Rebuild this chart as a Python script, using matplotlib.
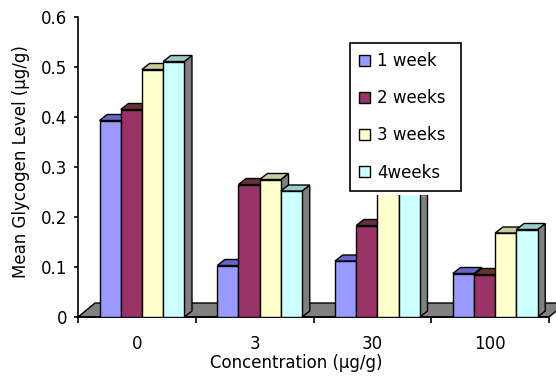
"""Glycogen level by concentration, drawn as pseudo-3D clustered columns."""

import matplotlib

matplotlib.use("Agg")
from matplotlib import patches, pyplot as plt

CONCENTRATIONS = ["0", "3", "30", "100"]
SERIES = ["1 week", "2 weeks", "3 weeks", "4weeks"]
WEEK1 = [0.393, 0.103, 0.112, 0.087]
WEEK2 = [0.415, 0.265, 0.183, 0.085]
WEEK3 = [0.495, 0.275, 0.31, 0.168]
WEEK4 = [0.511, 0.252, 0.32, 0.175]
VALUES = [WEEK1, WEEK2, WEEK3, WEEK4]
Y_TICKS = [0, 0.1, 0.2, 0.3, 0.4, 0.5, 0.6]
Y_TICK_LABELS = ["0", "0.1", "0.2", "0.3", "0.4", "0.5", "0.6"]

FRONT = ["#9999FF", "#993366", "#FFFFCC", "#CCFFFF"]
TOP = ["#6666CC", "#663333", "#CCCC99", "#99CCCC"]
SIDE = "#808080"

W, H = 556, 376
BAR_W = 0.18
GROUP_OFFSET = 0.183
DEPTH = (0.065, 0.012)     # bar depth in (category, value) units
FLOOR = (0.145, 0.028)     # floor depth
FS = 12


def px(x, y):
    return x / W, 1 - y / H


plt.rcParams["font.family"] = "DejaVu Sans"
fig = plt.figure(figsize=(W / 100, H / 100), dpi=100)
x0, y1 = px(78, 17)
x1, y0 = px(549, 317)
ax = fig.add_axes([x0, y0, x1 - x0, y1 - y0])
ax.set_xlim(0, len(CONCENTRATIONS))
ax.set_ylim(0, 0.6)
for side in ("top", "right"):
    ax.spines[side].set_visible(False)
ax.spines["left"].set_linewidth(1.2)
ax.spines["bottom"].set_linewidth(1.2)
ax.spines["bottom"].set_zorder(2)

# floor
n = len(CONCENTRATIONS)
fdx, fdy = FLOOR
ax.add_patch(patches.Polygon(
    [(0, 0), (n, 0), (n + fdx, fdy), (fdx, fdy)],
    closed=True, facecolor=SIDE, edgecolor="black", lw=1.0,
    zorder=1, clip_on=False,
))

ddx, ddy = DEPTH
containers = []
for j, vals in enumerate(VALUES):
    xs = [i + GROUP_OFFSET + j * BAR_W for i in range(n)]
    z = 3 + 3 * j
    bars = ax.bar(xs, vals, BAR_W, align="edge", color=FRONT[j],
                  edgecolor="black", lw=1.0, zorder=z + 1)
    containers.append(bars)
    for rect in bars:
        bx, bw, bh = rect.get_x(), rect.get_width(), rect.get_height()
        right = bx + bw
        ax.add_patch(patches.Polygon(
            [(right, 0), (right, bh), (right + ddx, bh + ddy), (right + ddx, ddy)],
            closed=True, facecolor=SIDE, edgecolor="black", lw=1.0, zorder=z,
            clip_on=False,
        ))
        ax.add_patch(patches.Polygon(
            [(bx, bh), (right, bh), (right + ddx, bh + ddy), (bx + ddx, bh + ddy)],
            closed=True, facecolor=TOP[j], edgecolor="black", lw=1.0, zorder=z + 2,
            clip_on=False,
        ))

ax.set_yticks(Y_TICKS)
ax.set_yticklabels(Y_TICK_LABELS)
ax.tick_params(axis="y", direction="out", length=3, width=1.2, pad=5, labelsize=FS)
ax.set_xticks(range(n + 1))
ax.set_xticklabels([])
ax.set_xticks([i + 0.5 for i in range(n)], minor=True)
ax.set_xticklabels(CONCENTRATIONS, minor=True)
ax.tick_params(axis="x", which="major", direction="out", length=4, width=1.2)
ax.tick_params(axis="x", which="minor", length=0, pad=13, labelsize=FS)

fig.text(*px(296, 363), "Concentration (\u00b5g/g)", ha="center", va="center",
         fontsize=FS)
fig.text(*px(21, 162), "Mean Glycogen Level (\u00b5g/g)", ha="center",
         va="center", rotation=90, fontsize=FS)

# white margin around the legend hides the columns behind it
mx, my = px(344, 195)
ax.add_patch(patches.Rectangle(
    (mx, my), 123 / W, 155 / H, transform=fig.transFigure,
    facecolor="white", edgecolor="none", zorder=29, clip_on=False,
))
lx, ly = px(350, 185)
leg = ax.legend(
    containers, SERIES, loc="upper left", mode="expand",
    bbox_to_anchor=(lx, ly, 111 / W, 142 / H),
    bbox_transform=fig.transFigure, borderaxespad=0, fontsize=FS,
    handlelength=0.66, handleheight=0.66, handletextpad=0.4,
    labelspacing=1.15, borderpad=0.55, fancybox=False, framealpha=1,
    edgecolor="black",
)
leg.get_frame().set_linewidth(1.2)
leg.set_zorder(30)

fig.savefig("out.png", dpi=100)
